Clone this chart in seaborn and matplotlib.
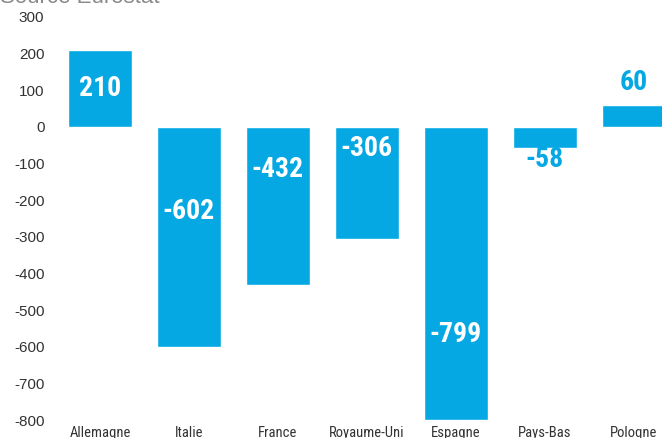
import matplotlib
matplotlib.use("Agg")
import matplotlib.pyplot as plt
import seaborn as sns
import pandas as pd

# Solde (en milliers) par pays
pays = ["Allemagne", "Italie", "France", "Royaume-Uni", "Espagne", "Pays-Bas", "Pologne"]
valeurs = [210, -602, -432, -306, -799, -58, 60]
yticks = [300, 200, 100, 0, -100, -200, -300, -400, -500, -600, -700, -800]
source = "Source Eurostat"

BLEU = "#05a8e3"
NARROW = ["Roboto Condensed", "DejaVu Sans"]

sns.set_theme(style="white")
plt.rcParams["font.family"] = ["Liberation Sans", "DejaVu Sans"]

fig = plt.figure(figsize=(6.62, 4.38), dpi=100)
ax = fig.add_axes([55.5 / 662, 18 / 438, 1 - 55.5 / 662, 403 / 438])

df = pd.DataFrame({"pays": pays, "valeur": valeurs})
sns.barplot(data=df, x="pays", y="valeur", color=BLEU, saturation=1,
            width=0.72, ax=ax)

ax.set_ylim(-800, 300)
ax.set_xlim(-0.5, 6.32)
ax.set_yticks(yticks)
ax.set_yticklabels([str(t) for t in yticks], fontsize=11, color="#333333")
ax.tick_params(axis="y", length=0, pad=8)
ax.tick_params(axis="x", length=0, pad=4)
for lab in ax.get_xticklabels():
    lab.set_fontfamily(NARROW)
    lab.set_fontsize(10.5)
    lab.set_color("#333333")
ax.set_xlabel("")
ax.set_ylabel("")
for s in ax.spines.values():
    s.set_visible(False)

# Étiquettes de valeur : position relative à la hauteur de la barre
label_frac = [0.5, 0.385, 0.27, 0.19, 0.71, 1.55, 2.0]
for i, (v, f) in enumerate(zip(valeurs, label_frac)):
    inside = f <= 1
    ax.text(i, v * f, f"{v}", ha="center", va="center",
            fontsize=20, fontweight="bold", family=NARROW,
            color="white" if inside else BLEU)

fig.text(0.0, 1 - 3 / 438, source, ha="left", va="baseline",
         fontsize=16, color="#8a8a8a")

fig.savefig("out.png", dpi=100, facecolor="white")
